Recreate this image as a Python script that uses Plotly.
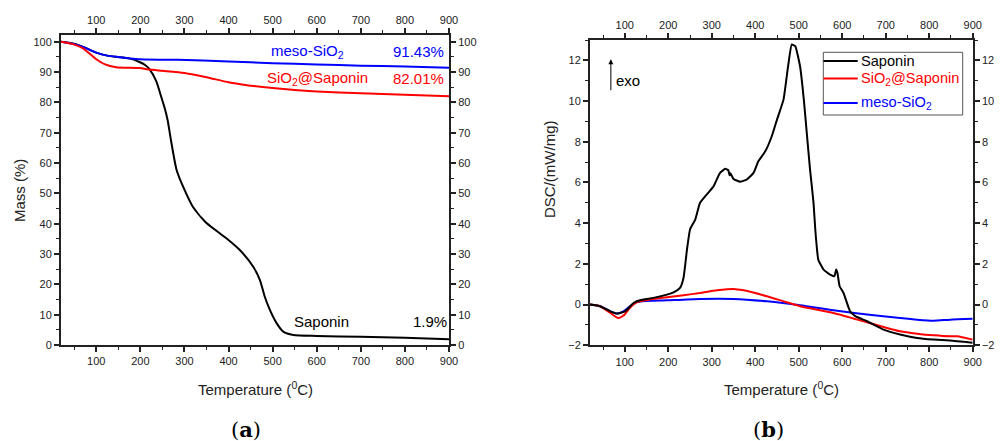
import plotly.graph_objects as go

# ---------------- Data (a) TGA ----------------
tga_sap_T = [20, 47, 70, 100, 125, 145, 175, 198, 210, 221, 236, 248, 255, 262, 270, 282, 297, 319, 350, 395, 425, 456, 471, 482, 494, 509, 524, 547, 600, 700, 800, 900]
tga_sap_M = [100, 99.4, 98.3, 96.4, 95.4, 95.0, 94.5, 93.3, 92.4, 90.9, 87.0, 81.5, 78.2, 74.0, 67.0, 57.8, 52.2, 45.6, 40.2, 35.2, 31.4, 25.8, 21.5, 16.0, 11.5, 7.2, 4.4, 3.3, 3.0, 2.7, 2.4, 1.9]

tga_meso_T = [20, 47, 70, 100, 125, 145, 198, 285, 400, 500, 600, 700, 800, 900]
tga_meso_M = [100, 99.3, 98.3, 96.4, 95.4, 95.0, 94.2, 94.0, 93.5, 92.9, 92.5, 92.1, 91.8, 91.43]

tga_sio_T = [20, 47, 70, 100, 120, 145, 198, 221, 250, 300, 350, 400, 450, 500, 550, 600, 700, 800, 900]
tga_sio_M = [100, 99.2, 97.8, 94.2, 92.5, 91.6, 91.3, 90.8, 90.4, 89.7, 88.3, 86.6, 85.5, 84.7, 84.1, 83.6, 83.0, 82.5, 82.01]

# ---------------- Data (b) DSC ----------------
dsc_sap_T = [20, 43, 67, 82, 101, 120, 135, 166, 197, 212, 227, 235, 243, 250, 262, 273, 288, 304, 319, 331, 338, 341, 343, 350, 365, 380, 396, 407, 423, 438, 450, 465, 476, 484, 492, 503, 512, 519, 526, 534, 538, 542, 545, 557, 572, 582, 586, 589, 594, 603, 618, 630, 657, 695, 733, 772, 810, 848, 900]
dsc_sap_V = [0, -0.08, -0.33, -0.44, -0.33, 0.08, 0.21, 0.33, 0.49, 0.6, 0.82, 1.31, 2.7, 3.69, 4.18, 5.0, 5.4, 5.81, 6.47, 6.67, 6.6, 6.35, 6.45, 6.17, 6.04, 6.14, 6.47, 7.04, 7.53, 8.27, 9.09, 10.07, 11.79, 12.78, 12.7, 11.71, 10.0, 8.3, 6.63, 5.0, 3.69, 2.7, 2.2, 1.72, 1.47, 1.4, 1.72, 1.55, 0.9, 0.57, -0.33, -0.57, -0.82, -1.23, -1.47, -1.64, -1.72, -1.77, -1.88]

dsc_sio_T = [20, 43, 67, 85, 97, 112, 127, 158, 197, 235, 273, 312, 350, 373, 427, 465, 503, 580, 657, 695, 733, 772, 810, 848, 864, 900]
dsc_sio_V = [0, -0.08, -0.41, -0.66, -0.54, -0.16, 0.11, 0.25, 0.36, 0.46, 0.57, 0.7, 0.77, 0.7, 0.41, 0.16, -0.08, -0.41, -0.87, -1.1, -1.31, -1.43, -1.51, -1.56, -1.56, -1.72]

dsc_meso_T = [20, 43, 67, 82, 97, 120, 135, 197, 273, 350, 427, 503, 580, 657, 733, 772, 810, 848, 900]
dsc_meso_V = [0, -0.08, -0.33, -0.44, -0.33, 0.05, 0.15, 0.21, 0.28, 0.28, 0.16, -0.03, -0.28, -0.49, -0.66, -0.74, -0.79, -0.74, -0.70]

x_ticks = [100, 200, 300, 400, 500, 600, 700, 800, 900]
x_minor = [50, 150, 250, 350, 450, 550, 650, 750, 850]
mass_ticks = [0, 10, 20, 30, 40, 50, 60, 70, 80, 90, 100]
mass_minor = [5, 15, 25, 35, 45, 55, 65, 75, 85, 95]
dsc_ticks = [-2, 0, 2, 4, 6, 8, 10, 12]
dsc_minor = [-1, 1, 3, 5, 7, 9, 11, 13]

legend_names = ["Saponin", "SiO<sub>2</sub>@Saponin", "meso-SiO<sub>2</sub>"]

BLACK = "#000000"
RED = "#ff0000"
BLUE = "#0000ff"
AX = "#222222"
FONT = "Liberation Sans, Arial, sans-serif"
W, H = 1005, 441

fig = go.Figure()
lw = 2

def line(xs, ys, color, xa, ya, smooth=0.6):
    return go.Scatter(x=xs, y=ys, mode="lines", line=dict(color=color, width=lw, shape="spline", smoothing=smooth),
                      showlegend=False, hoverinfo="skip", xaxis=xa, yaxis=ya)

# panel (a)
fig.add_trace(line(tga_sap_T, tga_sap_M, BLACK, "x", "y"))
fig.add_trace(line(tga_meso_T, tga_meso_M, BLUE, "x", "y"))
fig.add_trace(line(tga_sio_T, tga_sio_M, RED, "x", "y"))
fig.add_trace(go.Scatter(x=[None], y=[None], mode="lines", showlegend=False, hoverinfo="skip", xaxis="x3", yaxis="y3"))

# panel (b)
fig.add_trace(line(dsc_meso_T, dsc_meso_V, BLUE, "x2", "y2"))
fig.add_trace(line(dsc_sio_T, dsc_sio_V, RED, "x2", "y2"))
fig.add_trace(line(dsc_sap_T, dsc_sap_V, BLACK, "x2", "y2", smooth=0.4))
fig.add_trace(go.Scatter(x=[None], y=[None], mode="lines", showlegend=False, hoverinfo="skip", xaxis="x4", yaxis="y4"))

a_dom_x = [61 / W, 449 / W]
a_dom_y = [(H - 345) / H, (H - 35) / H]
b_dom_x = [590 / W, 972.7 / W]
b_dom_y = [(H - 345.3) / H, (H - 40) / H]

tickfont = dict(family=FONT, size=11, color=AX)

def xax(dom, anchor, side="bottom", overlay=None):
    d = dict(domain=dom, anchor=anchor, range=[20, 900], tickvals=x_ticks, ticks="outside", ticklen=5,
             tickwidth=1.5, tickcolor=AX, showline=True, linecolor=AX, linewidth=2, showgrid=False,
             zeroline=False, tickfont=tickfont, side=side, automargin=False,
             minor=dict(tickvals=x_minor, ticklen=3, tickwidth=1.2, tickcolor=AX, ticks="outside", showgrid=False))
    if overlay:
        d["overlaying"] = overlay
    return d

def yax(dom, anchor, rng, vals, mvals, side="left", overlay=None):
    d = dict(domain=dom, anchor=anchor, range=rng, tickvals=vals, ticks="outside", ticklen=5,
             tickwidth=1.5, tickcolor=AX, showline=True, linecolor=AX, linewidth=2, showgrid=False,
             zeroline=False, tickfont=tickfont, side=side, automargin=False,
             minor=dict(tickvals=mvals, ticklen=3, tickwidth=1.2, tickcolor=AX, ticks="outside", showgrid=False))
    if overlay:
        d["overlaying"] = overlay
    return d

fig.update_layout(
    width=W, height=H,
    margin=dict(l=0, r=0, t=0, b=0),
    paper_bgcolor="white", plot_bgcolor="white",
    font=dict(family=FONT, color=AX),
    xaxis=xax(a_dom_x, "y"),
    yaxis=yax(a_dom_y, "x", [0, 102.2], mass_ticks, mass_minor),
    xaxis3=xax(a_dom_x, "y3", side="top", overlay="x"),
    yaxis3=yax(a_dom_y, "x3", [0, 102.2], mass_ticks, mass_minor, side="right", overlay="y"),
    xaxis2=xax(b_dom_x, "y2"),
    yaxis2=yax(b_dom_y, "x2", [-2, 13], dsc_ticks, dsc_minor),
    xaxis4=xax(b_dom_x, "y4", side="top", overlay="x2"),
    yaxis4=yax(b_dom_y, "x4", [-2, 13], dsc_ticks, dsc_minor, side="right", overlay="y2"),
    showlegend=False,
)

ann_font = dict(family=FONT, size=15)
title_font = dict(family=FONT, size=15, color=AX)
temp_title = "Temperature (<sup>0</sup>C)"

def ann(x, y, text, xref, yref, color, xanchor="center", **kw):
    return dict(x=x, y=y, xref=xref, yref=yref, text=text, showarrow=False, xanchor=xanchor, yanchor="middle",
                font=kw.pop("font", dict(ann_font, color=color)), **kw)

anns = [
    ann(578, 96.8, "meso-SiO<sub>2</sub>", "x", "y", BLUE),
    ann(893, 96.8, "91.43%", "x", "y", BLUE, xanchor="right"),
    ann(601, 87.7, "SiO<sub>2</sub>@Saponin", "x", "y", RED),
    ann(893, 87.7, "82.01%", "x", "y", RED, xanchor="right"),
    ann(611, 7.7, "Saponin", "x", "y", BLACK),
    ann(899, 7.7, "1.9%", "x", "y", BLACK, xanchor="right"),
    # axis titles
    ann(255 / W, (H - 388) / H, temp_title, "paper", "paper", AX, font=title_font),
    ann(781 / W, (H - 388) / H, temp_title, "paper", "paper", AX, font=title_font),
    ann(19 / W, (H - 191) / H, "Mass (%)", "paper", "paper", AX, font=title_font, textangle=-90),
    ann(549 / W, (H - 169) / H, "DSC/(mW/mg)", "paper", "paper", AX, font=title_font, textangle=-90),
    # exo arrow
    dict(x=68, y=12.05, ax=68, ay=10.46, xref="x2", yref="y2", axref="x2", ayref="y2", text="", showarrow=True,
         arrowhead=2, arrowsize=1, arrowwidth=1, arrowcolor=BLACK),
    ann(76, 11.03, "exo", "x2", "y2", BLACK, xanchor="left"),
    ann(246 / W, (H - 429) / H, "(<b>a</b>)", "paper", "paper", BLACK,
        font=dict(family="DejaVu Serif, serif", size=21, color=BLACK)),
    ann(768 / W, (H - 429) / H, "(<b>b</b>)", "paper", "paper", BLACK,
        font=dict(family="DejaVu Serif, serif", size=21, color=BLACK)),
]

# manual legend for panel (b)
leg_colors = [BLACK, RED, BLUE]
leg_rows = [61, 78.5, 103]
shapes = [dict(type="rect", xref="paper", yref="paper", x0=823.3 / W, x1=962.7 / W,
               y0=(H - 115) / H, y1=(H - 52.3) / H, line=dict(color="#555555", width=1), fillcolor="white", layer="above")]
for name, col, yy in zip(legend_names, leg_colors, leg_rows):
    shapes.append(dict(type="line", xref="paper", yref="paper", x0=823.5 / W, x1=857.7 / W,
                       y0=(H - yy) / H, y1=(H - yy) / H, line=dict(color=col, width=2), layer="above"))
    anns.append(ann(859 / W, (H - yy) / H, name, "paper", "paper", col, xanchor="left",
                    font=dict(family=FONT, size=14.6, color=col)))

fig.update_layout(annotations=anns, shapes=shapes)

fig.write_html("out.html")
